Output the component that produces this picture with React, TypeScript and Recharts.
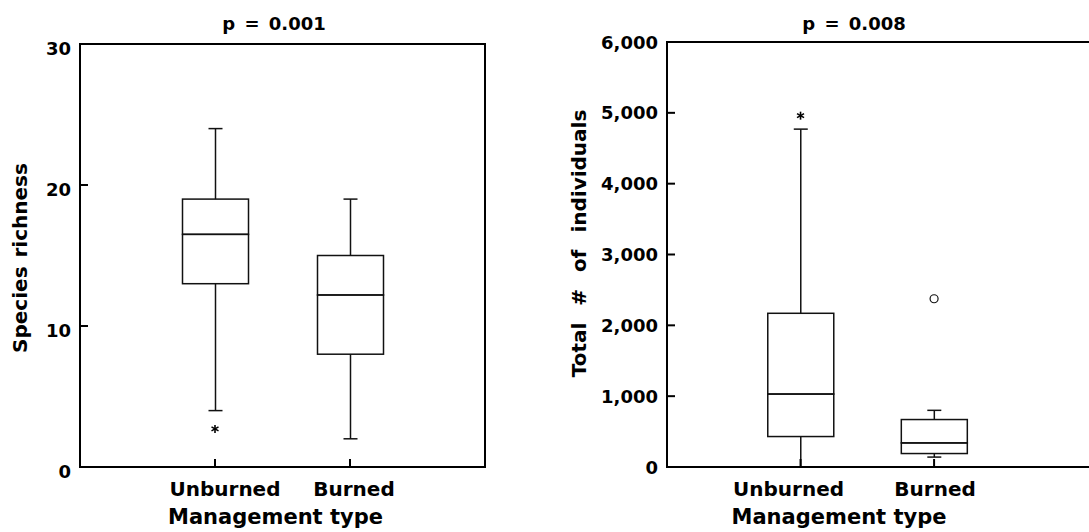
import React from 'react';
import { ComposedChart, Bar, Scatter, XAxis, YAxis } from 'recharts';

// ---------- data ----------
const categories = ['Unburned', 'Burned'];
const categoryPositions = [1, 2];

const richnessMin = [4, 2];
const richnessQ1 = [13, 8];
const richnessMedian = [16.5, 12.2];
const richnessQ3 = [19, 15];
const richnessMax = [24, 19];
const richnessOutlierCategory = [0];
const richnessOutlierValue = [2.7];
const richnessOutlierKind = ['extreme'];
const richnessTicks = [0, 10, 20, 30];

const individualsMin = [0, 140];
const individualsQ1 = [430, 190];
const individualsMedian = [1030, 340];
const individualsQ3 = [2170, 670];
const individualsMax = [4770, 800];
const individualsOutlierCategory = [0, 1];
const individualsOutlierValue = [4960, 2375];
const individualsOutlierKind = ['extreme', 'outlier'];
const individualsTicks = [0, 1000, 2000, 3000, 4000, 5000, 6000];

// ---------- helpers ----------
const FONT = '"DejaVu Sans", Verdana, sans-serif';
const STROKE = '#111';

function buildBoxData(min: number[], q1: number[], med: number[], q3: number[], max: number[]) {
  return categories.map((name, i) => ({
    x: categoryPositions[i],
    name,
    base: min[i],
    lowWhisker: q1[i] - min[i],
    lowBox: med[i] - q1[i],
    highBox: q3[i] - med[i],
    highWhisker: max[i] - q3[i],
  }));
}

function buildOutliers(cat: number[], val: number[], kind: string[]) {
  return cat.map((c, i) => ({ x: categoryPositions[c], y: val[i], kind: kind[i] }));
}

const BoxShape = (p: any) => (
  <rect x={p.x} y={p.y} width={p.width} height={p.height} fill="none" stroke={STROKE} strokeWidth={1.5} />
);

const LowWhiskerShape = (p: any) => {
  const cx = p.x + p.width / 2;
  const yb = p.y + p.height;
  return (
    <g stroke={STROKE} strokeWidth={1.5}>
      <line x1={cx} x2={cx} y1={p.y} y2={yb} />
      <line x1={cx - 7} x2={cx + 7} y1={yb} y2={yb} />
    </g>
  );
};

const HighWhiskerShape = (p: any) => {
  const cx = p.x + p.width / 2;
  return (
    <g stroke={STROKE} strokeWidth={1.5}>
      <line x1={cx} x2={cx} y1={p.y} y2={p.y + p.height} />
      <line x1={cx - 7} x2={cx + 7} y1={p.y} y2={p.y} />
    </g>
  );
};

const OutlierShape = (p: any) => {
  const { cx, cy, payload } = p;
  if (payload && payload.kind === 'outlier') {
    return <circle cx={cx} cy={cy} r={4} fill="#fff" stroke={STROKE} strokeWidth={1.2} />;
  }
  return (
    <g stroke="#000" strokeWidth={1.6}>
      <line x1={cx} x2={cx} y1={cy - 4} y2={cy + 4} />
      <line x1={cx - 3.5} x2={cx + 3.5} y1={cy - 2} y2={cy + 2} />
      <line x1={cx - 3.5} x2={cx + 3.5} y1={cy + 2} y2={cy - 2} />
    </g>
  );
};

const YTick = (p: any) => {
  const { x, y, payload, dyOff } = p;
  return (
    <text x={x} y={y + (dyOff || 0)} textAnchor="end" dominantBaseline="central"
      fontFamily={FONT} fontWeight="bold" fontSize={18} fill="#000">
      {Number(payload.value).toLocaleString('en-US')}
    </text>
  );
};

const XTick = (p: any) => {
  const { x, y, payload, dxs } = p;
  const idx = categoryPositions.indexOf(payload.value);
  return (
    <text x={x + (dxs ? dxs[idx] : 0)} y={y + 29} textAnchor="middle"
      fontFamily={FONT} fontWeight="bold" fontSize={20} fill="#000">
      {categories[idx]}
    </text>
  );
};

const axisLineStyle = { stroke: '#000', strokeWidth: 2, strokeLinecap: 'square' as const };
const tickLineStyle = { stroke: '#000', strokeWidth: 2 };

type PanelProps = {
  left: number;
  width: number;
  margin: { top: number; right: number; bottom: number; left: number };
  data: any[];
  outliers: any[];
  yDomain: [number, number];
  yTicks: number[];
  xDomain: [number, number];
  yTickDy: number;
  xTickDx: number[];
  title: string;
  titleDx: number;
  yTitle: string;
  yTitleDx: number;
  yTitleDy: number;
  yTitleSpacing: number;
  xTitle: string;
  xTitleDx: number;
};

function Panel(props: PanelProps) {
  const {
    left, width, margin, data, outliers, yDomain, yTicks, xDomain, yTickDy, xTickDx,
    title, titleDx, yTitle, yTitleDx, yTitleDy, yTitleSpacing, xTitle, xTitleDx,
  } = props;
  return (
    <div style={{ position: 'absolute', left, top: 0, width, height: 532 }}>
      <ComposedChart width={width} height={532} data={data} margin={margin}>
        <XAxis
          xAxisId="b"
          dataKey="x"
          type="number"
          domain={xDomain}
          ticks={categoryPositions}
          allowDataOverflow
          height={50}
          tickSize={-8}
          tickMargin={8}
          axisLine={axisLineStyle}
          tickLine={tickLineStyle}
          tick={<XTick dxs={xTickDx} />}
          label={(lp: any) => {
            const vb = lp.viewBox;
            return (
              <text x={vb.x + vb.width / 2 + xTitleDx} y={vb.y + 57} textAnchor="middle"
                fontFamily={FONT} fontWeight="bold" fontSize={21} fill="#000">
                {xTitle}
              </text>
            );
          }}
        />
        <XAxis
          xAxisId="t"
          orientation="top"
          type="number"
          domain={xDomain}
          ticks={categoryPositions}
          allowDataOverflow
          height={10}
          tickSize={-8}
          axisLine={axisLineStyle}
          tickLine={tickLineStyle}
          tick={false}
          label={(lp: any) => {
            const vb = lp.viewBox;
            return (
              <text x={vb.x + vb.width / 2 + titleDx} y={29.5} textAnchor="middle"
                fontFamily={FONT} fontWeight="bold" fontSize={18} fill="#000" style={{ wordSpacing: 3 }}>
                {title}
              </text>
            );
          }}
        />
        <YAxis
          yAxisId="l"
          type="number"
          domain={yDomain}
          ticks={yTicks}
          allowDataOverflow
          width={60}
          tickSize={-8}
          tickMargin={17}
          axisLine={axisLineStyle}
          tickLine={tickLineStyle}
          tick={<YTick dyOff={yTickDy} />}
          label={(lp: any) => {
            const vb = lp.viewBox;
            const x = vb.x + yTitleDx;
            const y = vb.y + vb.height / 2 + yTitleDy;
            return (
              <text x={x} y={y} transform={`rotate(-90 ${x} ${y})`} textAnchor="middle"
                dominantBaseline="central" fontFamily={FONT} fontWeight="bold" fontSize={20}
                fill="#000" style={{ wordSpacing: yTitleSpacing }}>
                {yTitle}
              </text>
            );
          }}
        />
        <YAxis
          yAxisId="r"
          orientation="right"
          type="number"
          domain={yDomain}
          ticks={yTicks}
          allowDataOverflow
          width={10}
          tickSize={-8}
          axisLine={axisLineStyle}
          tickLine={tickLineStyle}
          tick={false}
        />
        <Bar xAxisId="b" yAxisId="l" dataKey="base" stackId="box" barSize={66} fill="transparent" isAnimationActive={false} />
        <Bar xAxisId="b" yAxisId="l" dataKey="lowWhisker" stackId="box" barSize={66} shape={LowWhiskerShape} isAnimationActive={false} />
        <Bar xAxisId="b" yAxisId="l" dataKey="lowBox" stackId="box" barSize={66} shape={BoxShape} isAnimationActive={false} />
        <Bar xAxisId="b" yAxisId="l" dataKey="highBox" stackId="box" barSize={66} shape={BoxShape} isAnimationActive={false} />
        <Bar xAxisId="b" yAxisId="l" dataKey="highWhisker" stackId="box" barSize={66} shape={HighWhiskerShape} isAnimationActive={false} />
        <Scatter xAxisId="b" yAxisId="l" data={outliers} dataKey="y" shape={OutlierShape} isAnimationActive={false} />
      </ComposedChart>
    </div>
  );
}

export default function App() {
  const richnessData = buildBoxData(richnessMin, richnessQ1, richnessMedian, richnessQ3, richnessMax);
  const individualsData = buildBoxData(individualsMin, individualsQ1, individualsMedian, individualsQ3, individualsMax);
  const richnessOutliers = buildOutliers(richnessOutlierCategory, richnessOutlierValue, richnessOutlierKind);
  const individualsOutliers = buildOutliers(individualsOutlierCategory, individualsOutlierValue, individualsOutlierKind);

  return (
    <div style={{ position: 'absolute', left: 0, top: 0, width: 1089, height: 532, overflow: 'hidden', background: '#fff' }}>
      <Panel
        left={0}
        width={540}
        margin={{ top: 34, right: 45, bottom: 15, left: 20 }}
        data={richnessData}
        outliers={richnessOutliers}
        yDomain={[0, 30]}
        yTicks={richnessTicks}
        xDomain={[0, 3]}
        yTickDy={4}
        xTickDx={[10, 4]}
        title="p = 0.001"
        titleDx={-8.5}
        yTitle="Species richness"
        yTitleDx={0}
        yTitleDy={2.5}
        yTitleSpacing={2}
        xTitle="Management type"
        xTitleDx={-7}
      />
      <Panel
        left={540}
        width={570}
        margin={{ top: 32, right: 7, bottom: 15, left: 67 }}
        data={individualsData}
        outliers={individualsOutliers}
        yDomain={[0, 6000]}
        yTicks={individualsTicks}
        xDomain={[0, 3.19]}
        yTickDy={0}
        xTickDx={[-12, 1]}
        title="p = 0.008"
        titleDx={-26}
        yTitle="Total # of individuals"
        yTitleDx={-28}
        yTitleDy={-11}
        yTitleSpacing={10}
        xTitle="Management type"
        xTitleDx={-41}
      />
    </div>
  );
}
